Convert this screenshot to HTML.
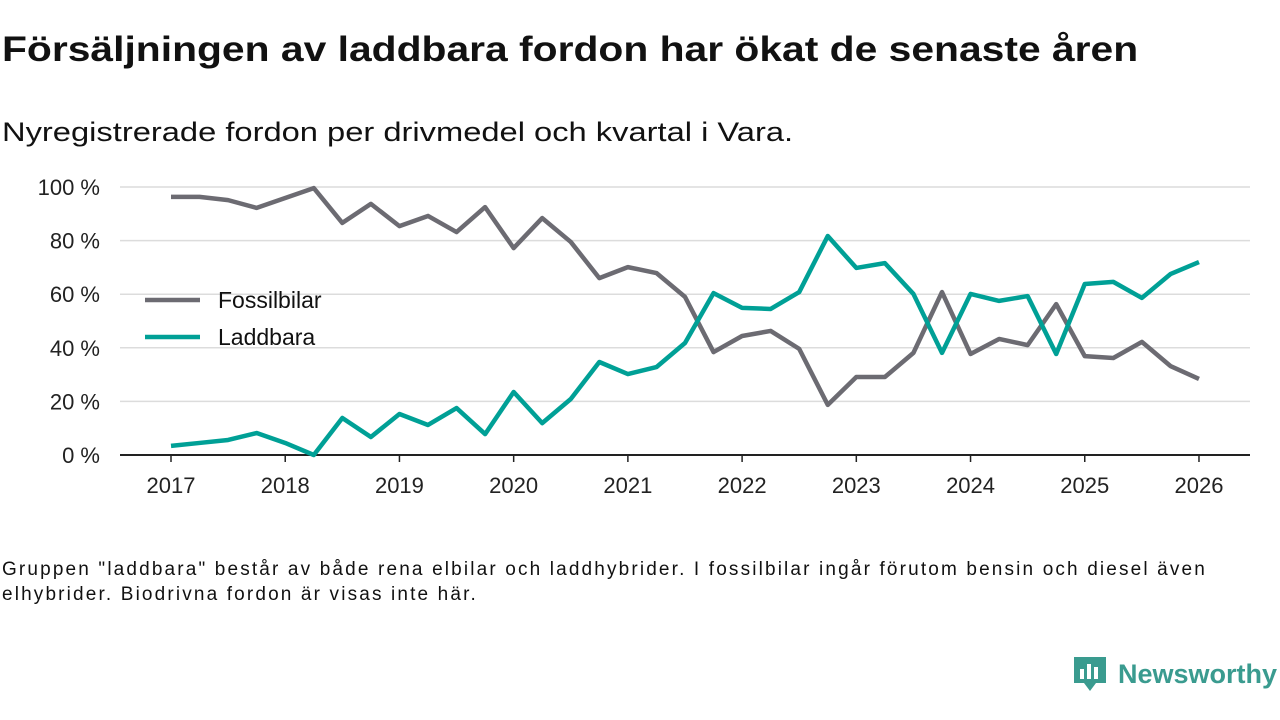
<!DOCTYPE html>
<html><head><meta charset="utf-8">
<style>
body{margin:0;width:1280px;height:720px;background:#fff;font-family:"Liberation Sans",sans-serif;color:#111;overflow:hidden;position:relative}
#title{position:absolute;left:2px;top:30px;font-size:35px;font-weight:bold;margin:0;white-space:nowrap;transform:scaleX(1.166);transform-origin:0 0}
#sub{position:absolute;left:2px;top:117px;font-size:27px;white-space:nowrap;transform:scaleX(1.21);transform-origin:0 0}
#note{position:absolute;left:2px;top:557px;font-size:19px;line-height:25px;width:1235px;letter-spacing:2.15px}
#logo{position:absolute;left:1072px;top:655px}
svg text{font-family:"Liberation Sans",sans-serif}
</style></head><body>
<h1 id="title">Försäljningen av laddbara fordon har ökat de senaste åren</h1>
<div id="sub">Nyregistrerade fordon per drivmedel och kvartal i Vara.</div>
<svg id="chart" width="1280" height="720" style="position:absolute;left:0;top:0"></svg>
<div id="note">Gruppen "laddbara" består av både rena elbilar och laddhybrider. I fossilbilar ingår förutom bensin och diesel även elhybrider. Biodrivna fordon är visas inte här.</div>
<div id="logo">
<svg width="208" height="40"><path d="M2 2h32v26l-10 0-6 8-6-8H2z" fill="#3a9b8f"/><rect x="8" y="14" width="4" height="10" fill="#fff"/><rect x="15" y="9" width="4" height="15" fill="#fff"/><rect x="22" y="12" width="4" height="12" fill="#fff"/>
<text x="46" y="28" font-size="27" font-weight="bold" fill="#3a9b8f">Newsworthy</text></svg></div>
<script>
const years=[2017,2018,2019,2020,2021,2022,2023,2024,2025,2026];
const yTicks=[0,20,40,60,80,100];
const fossil=[96.3,96.3,95.1,92.2,95.9,99.6,86.6,93.7,85.4,89.2,83.2,92.5,77.2,88.4,79.5,66,70.1,67.9,59,38.4,44.4,46.3,39.6,18.7,29.1,29.1,38.1,60.8,37.7,43.3,41,56.3,36.9,36.2,42.2,33.2,28.4];
const laddbara=[3.4,4.5,5.6,8.2,4.5,0,13.8,6.7,15.3,11.2,17.5,7.8,23.5,11.9,20.9,34.7,30.2,32.8,41.8,60.4,54.9,54.5,60.8,81.7,69.8,71.6,60.1,38.1,60.1,57.5,59.3,37.7,63.8,64.6,58.6,67.5,72.0];
const svg=document.getElementById('chart');const NS='http://www.w3.org/2000/svg';
const x=t=>171+(t-2017)*114.22;const y=v=>455-v*2.68;
function mk(tag,a){const e=document.createElementNS(NS,tag);for(const k in a)e.setAttribute(k,a[k]);svg.appendChild(e);return e;}
yTicks.forEach(v=>{const l=mk('line',{x1:120,x2:1250,y1:y(v),y2:y(v),stroke:v?'#dcdcdc':'#222','stroke-width':v?1.5:2});


const t=mk('text',{x:100,y:y(v)+8,'font-size':22,'text-anchor':'end',fill:'#222'});t.textContent=v+' %';

});
years.forEach(yr=>{mk('line',{x1:x(yr),x2:x(yr),y1:455,y2:462,stroke:'#222','stroke-width':1.5});
const t=mk('text',{x:x(yr),y:493,'font-size':22,'text-anchor':'middle',fill:'#222'});t.textContent=yr;

});
function line(d,c,n){const p=mk('polyline',{points:d.map((v,i)=>x(2017+i/4)+','+y(v)).join(' '),fill:'none',stroke:c,'stroke-width':4.5,'stroke-linejoin':'round'});

}
line(fossil,'#6c6b72','series-fossilbilar');line(laddbara,'#00a096','series-laddbara');
[['Fossilbilar','#6c6b72',300],['Laddbara','#00a096',337]].forEach(([n,c,yy])=>{
mk('line',{x1:145,x2:200,y1:yy,y2:yy,stroke:c,'stroke-width':4.5});
const t=mk('text',{x:218,y:yy+8,'font-size':23,fill:'#111'});t.textContent=n;

});
</script>
</body></html>
